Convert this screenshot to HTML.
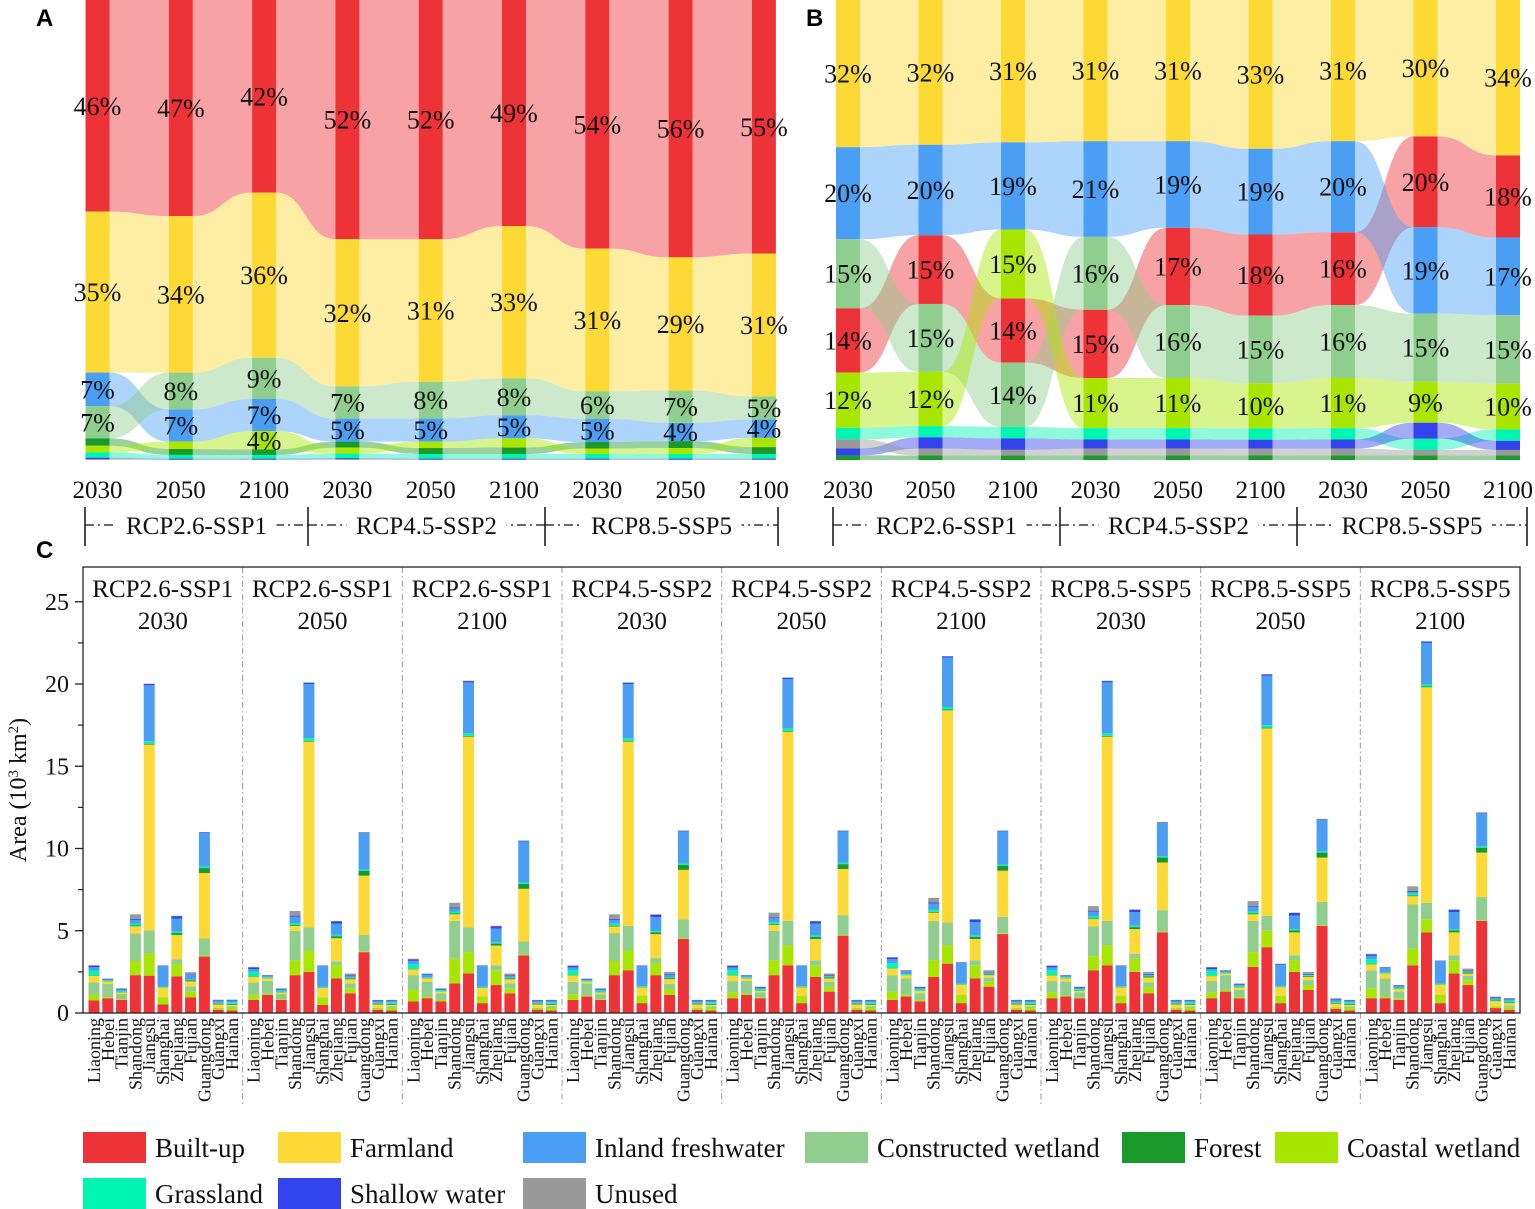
<!DOCTYPE html>
<html><head><meta charset="utf-8">
<style>
html,body{margin:0;padding:0;background:#fff;}
svg{display:block;font-family:"Liberation Serif",serif;}
</style></head>
<body>
<svg id="fig" width="1535" height="1209" viewBox="0 0 1535 1209" xmlns="http://www.w3.org/2000/svg">
<g id="panelA"></g>
<g id="panelB"></g>
<g id="panelC"></g>
<g id="legend"></g>
</svg>
<script>
// ---------- shared ----------
const classNames = ["Built-up","Farmland","Inland freshwater","Constructed wetland","Forest","Coastal wetland","Grassland","Shallow water","Unused"];
const classColors = ["#ee3338","#fcd934","#4a9ff5","#8fce8f","#1a9a2a","#a8e600","#00f5b0","#3344ee","#999999"];
const yearLabels = ["2030","2050","2100","2030","2050","2100","2030","2050","2100"];
const scenarioLabels = ["RCP2.6-SSP1","RCP4.5-SSP2","RCP8.5-SSP5"];

// ---------- panel A data (% per column) ----------
const aBuilt   = [46,47,42,52,52,49,54,56,55];
const aFarm    = [35,34,36,32,31,33,31,29,31];
const aInland  = [7.3,7,7,5,5,5,5,4,4];
const aConstr  = [7,8,9,7,8,8,6,7,5];
const aForest  = [1.6,1.3,1.2,1.3,1.3,1.4,1.4,1.5,1.5];
const aCoastal = [1.4,1.6,4,1.3,1.4,2,1.2,1.3,2];
const aGrass   = [1.2,0.8,0.8,1,1,1,1,1,1];
const aShallow = [0.3,0.2,0.2,0.2,0.2,0.2,0.2,0.2,0.2];
const aUnused  = [0.2,0.1,0.1,0.2,0.1,0.1,0.1,0.1,0.1];

// ---------- panel B data (% per column) ----------
const bBuilt   = [14,15.2,14,15,17,18,16,20,18];
const bFarm    = [32,32,31,31,31,33,31,30,34];
const bInland  = [20,20,19,21,19,19,20,19,17];
const bConstr  = [15,15,14,16,16,15,16,15,15];
const bForest  = [1,1,1,1,1,1,1,1,1];
const bCoastal = [12,12,15,11,11,10,11,9,10];
const bGrass   = [2.5,2.5,2.5,2.5,2.5,2.5,2.5,2.5,2.5];
const bShallow = [1.5,2.5,2.5,2,2,2,2,3.5,2];
const bUnused  = [2,1.5,1.2,1.5,1.5,1.5,1.5,1.2,1.2];

// ---------- panel C data (10^3 km2) ----------
const provinces = ["Liaoning","Hebei","Tianjin","Shandong","Jiangsu","Shanghai","Zhejiang","Fujian","Guangdong","Guangxi","Hainan"];
const groupTitles = ["RCP2.6-SSP1","RCP2.6-SSP1","RCP2.6-SSP1","RCP4.5-SSP2","RCP4.5-SSP2","RCP4.5-SSP2","RCP8.5-SSP5","RCP8.5-SSP5","RCP8.5-SSP5"];
const groupYears = ["2030","2050","2100","2030","2050","2100","2030","2050","2100"];
const yTicks = [0,5,10,15,20,25];
const cBuilt = [
 [.76,.9,.8,2.3,2.27,.52,2.23,.96,3.43,.2,.15],
 [.8,1.1,.8,2.3,2.5,.5,2.1,1.2,3.7,.2,.15],
 [.7,.9,.7,1.8,2.4,.6,1.7,1.2,3.5,.2,.15],
 [.8,1.0,.8,2.3,2.6,.6,2.3,1.1,4.5,.2,.15],
 [.9,1.1,.9,2.3,2.9,.6,2.2,1.3,4.7,.2,.15],
 [.8,1.0,.7,2.2,3.0,.6,2.1,1.6,4.8,.2,.15],
 [.9,1.0,.9,2.6,2.9,.6,2.5,1.2,4.9,.2,.15],
 [.9,1.3,.9,2.8,4.0,.6,2.5,1.4,5.3,.25,.15],
 [.9,.9,.8,2.9,4.9,.6,2.4,1.7,5.6,.3,.2]];
const cCoastal = [
 [.34,.06,.05,.86,1.35,.44,.74,.36,.05,.1,.15],
 [.3,.06,.05,.9,1.3,.44,.8,.3,.05,.1,.15],
 [.7,.1,.1,1.5,1.3,.4,.9,.3,.05,.1,.15],
 [.34,.06,.05,.86,1.2,.44,.74,.36,.05,.1,.15],
 [.34,.06,.05,.9,1.2,.44,.7,.3,.05,.1,.15],
 [.5,.1,.1,1.0,1.1,.5,.8,.3,.05,.1,.15],
 [.34,.06,.05,.86,1.2,.44,.8,.36,.05,.1,.15],
 [.34,.1,.1,.9,1.0,.45,.7,.3,.05,.1,.15],
 [.6,.1,.1,1.0,.8,.5,.8,.3,.05,.1,.15]];
const cConstr = [
 [.76,.8,.3,1.67,1.4,.02,.3,.3,1.05,.02,.1],
 [.75,.8,.3,1.8,1.4,.02,.25,.3,1.0,.02,.1],
 [.9,.9,.4,2.3,1.5,.02,.3,.3,.8,.02,.1],
 [.75,.75,.3,1.7,1.5,.02,.3,.3,1.15,.02,.1],
 [.7,.8,.3,1.8,1.5,.02,.3,.3,1.2,.02,.1],
 [1.0,1.0,.4,2.4,1.4,.02,.3,.25,1.0,.02,.1],
 [.7,.85,.3,1.8,1.5,.02,.3,.3,1.3,.02,.1],
 [.7,.9,.4,1.9,.9,.02,.3,.3,1.4,.02,.1],
 [1.1,1.1,.4,2.7,1.0,.02,.3,.25,1.4,.02,.1]];
const cFarm = [
 [.4,.16,.1,.44,11.3,.56,1.47,.3,3.98,.2,.1],
 [.35,.15,.1,.3,11.3,.56,1.4,.25,3.6,.2,.1],
 [.35,.2,.1,.4,11.6,.5,1.2,.25,3.2,.2,.1],
 [.4,.1,.1,.4,11.2,.5,1.45,.3,3.0,.2,.1],
 [.35,.15,.1,.35,11.5,.5,1.3,.2,2.8,.2,.1],
 [.4,.2,.15,.5,12.9,.6,1.3,.15,2.8,.2,.1],
 [.35,.2,.1,.45,11.2,.5,1.5,.3,2.9,.2,.1],
 [.3,.1,.15,.4,11.4,.5,1.4,.2,2.7,.2,.1],
 [.35,.3,.15,.5,13.1,.6,1.4,.15,2.7,.3,.15]];
const cInland = [
 [.2,.05,.08,.22,3.4,1.24,.8,.3,2.05,.1,.1],
 [.15,.06,.08,.39,3.3,1.26,.68,.09,2.2,.09,.08],
 [.2,.17,.03,.19,3.1,1.26,.83,.09,2.5,.09,.08],
 [.16,.06,.08,.23,3.3,1.22,.84,.18,1.96,.09,.08],
 [.16,.06,.08,.24,3.0,1.22,.73,.04,1.91,.09,.08],
 [.25,.17,.08,.39,3.0,1.26,.83,.04,2.01,.09,.08],
 [.16,.06,.08,.28,3.1,1.22,.83,.08,2.01,.09,.08],
 [.11,.07,.08,.29,3.0,1.31,.83,.04,1.91,.14,.08],
 [.2,.27,.08,.09,2.5,1.36,1.03,.04,2.01,.09,.08]];
const cForest  = [0.02,0.02,0.02,0.05,0.05,0.02,0.12,0.06,0.3,0.05,0.05];
const cGrass   = [0.3,0.05,0.08,0.12,0.15,0.05,0.08,0.04,0.08,0.05,0.1];
const cShallow = [0.1,0.04,0.05,0.06,0.08,0.03,0.15,0.04,0.04,0.05,0.05];
const cUnused  = [0.03,0.02,0.02,0.28,0.02,0.02,0.02,0.12,0.02,0.04,0.02];

const NS = "http://www.w3.org/2000/svg";
function mk(parent, tag, attrs, text){
  const e = document.createElementNS(NS, tag);
  for (const k in attrs) e.setAttribute(k, attrs[k]);
  if (text !== undefined) e.textContent = text;
  parent.appendChild(e);
  return e;
}

// ---------- alluvial ----------
function alluvial(root, series, x0, step, bw, top, bottom, labelMin){
  const nCols = series[0].length;
  const cols = [];
  for (let c=0;c<nCols;c++){
    const vals = series.map(s=>s[c]);
    const sum = vals.reduce((a,b)=>a+b,0);
    const order = vals.map((v,i)=>i).sort((a,b)=>vals[b]-vals[a]);
    const pos = {};
    let y = top;
    const k = (bottom-top)/sum;
    order.forEach(i=>{ pos[i]=[y, y+vals[i]*k]; y += vals[i]*k; });
    cols.push({cx: x0 + c*step, pos, vals});
  }
  const flows = mk(root,"g",{});
  
  
  for (let c=0;c<nCols-1;c++){
    for (let i=0;i<series.length;i++){
      const a = cols[c], b = cols[c+1];
      const x1 = a.cx+bw/2, x2 = b.cx-bw/2, xm=(x1+x2)/2;
      const [ya0,ya1] = a.pos[i], [yb0,yb1] = b.pos[i];
      const d = `M${x1},${ya0} C${xm},${ya0} ${xm},${yb0} ${x2},${yb0} L${x2},${yb1} C${xm},${yb1} ${xm},${ya1} ${x1},${ya1} Z`;
      const p = mk(flows,"path",{d, fill:classColors[i], "fill-opacity":0.45});
      
      
    }
  }
  cols.forEach((col,c)=>{
    for (let i=0;i<series.length;i++){
      const [y0,y1] = col.pos[i];
      const r = mk(root,"rect",{x:col.cx-bw/2, y:y0, width:bw, height:Math.max(0,y1-y0), fill:classColors[i]});
      
      
    }
  });
  cols.forEach((col,c)=>{
    for (let i=0;i<series.length;i++){
      if (col.vals[i] < labelMin) continue;
      const [y0,y1] = col.pos[i];
      const t = mk(root,"text",{x:col.cx, y:(y0+y1)/2+9, "text-anchor":"middle", "font-size":26, fill:"#111"}, Math.round(col.vals[i])+"%");
      
      
    }
  });
  cols.forEach((col,c)=>{
    const t = mk(root,"text",{x:col.cx, y:498, "text-anchor":"middle", "font-size":25, fill:"#111"}, yearLabels[c]);
    
    
  });
}

function brackets(root, xs){
  for (let s=0;s<3;s++){
    const xa = xs[s], xb = xs[s+1];
    mk(root,"line",{x1:xa,y1:525,x2:xb,y2:525,stroke:"#111","stroke-width":1.3,"stroke-dasharray":"9,4,2,4"});
    const cx=(xa+xb)/2;
    mk(root,"rect",{x:cx-80,y:510,width:160,height:30,fill:"#fff"});
    const t = mk(root,"text",{x:cx,y:534,"text-anchor":"middle","font-size":25,fill:"#111"}, scenarioLabels[s]);
    
    
  }
  xs.forEach(x=>mk(root,"line",{x1:x,y1:507,x2:x,y2:546,stroke:"#111","stroke-width":1.5}));
}

const pA = document.getElementById("panelA");
alluvial(pA,[aBuilt,aFarm,aInland,aConstr,aForest,aCoastal,aGrass,aShallow,aUnused],97.5,83.3,24,0,460,3.9);
brackets(pA,[85,308,545,778]);
mk(pA,"text",{x:36,y:26,"font-size":24,"font-weight":"bold","font-family":"Liberation Sans, sans-serif"},"A");

const pB = document.getElementById("panelB");
alluvial(pB,[bBuilt,bFarm,bInland,bConstr,bForest,bCoastal,bGrass,bShallow,bUnused],848,82.5,24,0,460,8.5);
brackets(pB,[833,1060,1297,1527]);
mk(pB,"text",{x:806,y:26,"font-size":24,"font-weight":"bold","font-family":"Liberation Sans, sans-serif"},"B");

// ---------- panel C ----------
const pC = document.getElementById("panelC");
mk(pC,"text",{x:36,y:558,"font-size":24,"font-weight":"bold","font-family":"Liberation Sans, sans-serif"},"C");
const cL=83, cR=1520, cT=567, c0=1013, unit=16.45, gW=(cR-cL)/9;
const yS = v => c0 - v*unit;
for (let g=1; g<9; g++){
  const x = cL+g*gW;
  const l = mk(pC,"line",{x1:x,y1:cT,x2:x,y2:1107,stroke:"#999","stroke-width":1,"stroke-dasharray":"6,3,1.5,3"});
  
  
}
const cSeries = [
  g=>cBuilt[g], g=>cCoastal[g], g=>cConstr[g], g=>cFarm[g],
  g=>cForest, g=>cGrass, g=>cInland[g], g=>cShallow, g=>cUnused];
const cSeriesClass = [0,5,3,1,4,6,2,7,8];
for (let g=0; g<9; g++){
  const gx = cL+g*gW;
  const gc = gx+gW/2;
  const t1 = mk(pC,"text",{x:gc,y:597,"text-anchor":"middle","font-size":25,fill:"#111"},groupTitles[g]);
  
  
  const t2 = mk(pC,"text",{x:gc,y:629,"text-anchor":"middle","font-size":25,fill:"#111"},groupYears[g]);
  
  
  for (let p=0; p<provinces.length; p++){
    const bx = gx + 11 + p*13.8;
    let acc = 0;
    cSeries.forEach((fn,si)=>{
      const v = fn(g)[p];
      const r = mk(pC,"rect",{x:bx-5.5, y:yS(acc+v), width:11, height:v*unit, fill:classColors[cSeriesClass[si]]});
      
      
      acc += v;
    });
    const lab = mk(pC,"text",{x:0,y:0,"text-anchor":"end","font-size":18,fill:"#111",transform:`translate(${bx+6},1018) rotate(-90)`},provinces[p]);
    
    
  }
}
const fr = mk(pC,"rect",{x:cL,y:cT,width:cR-cL,height:c0-cT,fill:"none",stroke:"#222","stroke-width":1.3});


yTicks.forEach(v=>{
  mk(pC,"line",{x1:cL-8,y1:yS(v),x2:cL,y2:yS(v),stroke:"#222","stroke-width":1.3});
  const t = mk(pC,"text",{x:cL-14,y:yS(v)+8,"text-anchor":"end","font-size":24,fill:"#111"},String(v));
  
  
  if (v<25) mk(pC,"line",{x1:cL-5,y1:yS(v+2.5),x2:cL,y2:yS(v+2.5),stroke:"#222","stroke-width":1.2});
});
const yt = mk(pC,"text",{x:0,y:0,"text-anchor":"middle","font-size":24,fill:"#111",transform:"translate(26,790) rotate(-90)"});


yt.innerHTML = 'Area (10<tspan baseline-shift="super" font-size="15">3</tspan> km<tspan baseline-shift="super" font-size="15">2</tspan>)';

// ---------- legend ----------
const lg = document.getElementById("legend");
const legendOrder = [0,1,2,3,4,5,6,7,8];
const legendX = [83,278,523,805,1122,1275,83,278,523];
const legendY = [1132,1132,1132,1132,1132,1132,1178,1178,1178];
legendOrder.forEach((ci,k)=>{
  const g = mk(lg,"g",{});
  
  
  mk(g,"rect",{x:legendX[k],y:legendY[k],width:63,height:31,fill:classColors[ci]});
  mk(g,"text",{x:legendX[k]+72,y:legendY[k]+25,"font-size":27,fill:"#111"},classNames[ci]);
});
</script>
</body></html>
